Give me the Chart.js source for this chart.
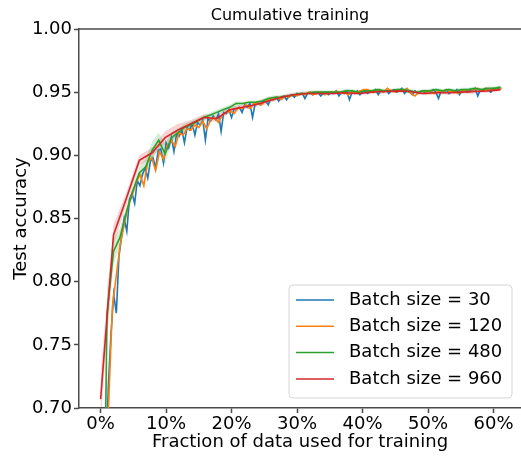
<!DOCTYPE html>
<html>
<head>
<meta charset="utf-8">
<script src="https://cdn.jsdelivr.net/npm/chart.js@4"></script>
<style>
  html, body { margin: 0; padding: 0; background: #ffffff; }
  #wrap { width: 521px; height: 457px; }
</style>
</head>
<body>
<div id="wrap"><canvas id="c" width="521" height="457"></canvas></div>
<script>
// Test accuracy vs. fraction of the training data seen, one run per batch size.
const batchLabels = ['Batch size = 30', 'Batch size = 120', 'Batch size = 480', 'Batch size = 960'];
const seriesColors = ['#1f77b4', '#ff7f0e', '#2ca02c', '#d62728'];

// Fraction of data consumed between evaluations for each run.
const fractionSteps = [0.004, 0.006, 0.00985, 0.0197];

const acc30 = [
  0.35, 0.55, 0.66, 0.72, 0.76, 0.79, 0.775, 0.82, 0.835, 0.85,
  0.84, 0.865, 0.87, 0.862, 0.88, 0.876, 0.885, 0.89, 0.882, 0.895,
  0.898, 0.89, 0.904, 0.905, 0.894, 0.91, 0.906, 0.914, 0.903, 0.917,
  0.915, 0.92, 0.91, 0.922, 0.92, 0.925, 0.916, 0.926, 0.924, 0.928,
  0.912, 0.929, 0.927, 0.931, 0.928, 0.933, 0.919, 0.934, 0.933, 0.936,
  0.93, 0.937, 0.937, 0.938, 0.934, 0.94, 0.938, 0.941, 0.93, 0.941,
  0.942, 0.94, 0.943, 0.943, 0.94, 0.945, 0.944, 0.946, 0.943, 0.946,
  0.947, 0.944, 0.947, 0.948, 0.946, 0.949, 0.948, 0.949, 0.945, 0.949,
  0.95, 0.948, 0.949, 0.95, 0.947, 0.949, 0.95, 0.948, 0.95, 0.949,
  0.951, 0.947, 0.95, 0.949, 0.951, 0.944, 0.95, 0.949, 0.951, 0.948,
  0.95, 0.951, 0.949, 0.951, 0.95, 0.952, 0.948, 0.951, 0.95, 0.952,
  0.949, 0.951, 0.952, 0.95, 0.951, 0.953, 0.949, 0.951, 0.95, 0.948,
  0.951, 0.949, 0.95, 0.951, 0.949, 0.951, 0.95, 0.952, 0.95, 0.945,
  0.951, 0.95, 0.952, 0.949, 0.951, 0.95, 0.952, 0.948, 0.951, 0.952,
  0.95, 0.952, 0.951, 0.953, 0.947, 0.952, 0.951, 0.953, 0.952, 0.95,
  0.953, 0.952, 0.953, 0.953
];

const acc120 = [
  0.40, 0.60, 0.70, 0.78, 0.805, 0.83, 0.845, 0.86, 0.868, 0.878,
  0.885, 0.876, 0.895, 0.898, 0.888, 0.903, 0.897, 0.908, 0.912, 0.907,
  0.918, 0.916, 0.921, 0.92, 0.924, 0.922, 0.927, 0.921, 0.928, 0.93,
  0.926, 0.932, 0.934, 0.935, 0.933, 0.938, 0.937, 0.94, 0.937, 0.941,
  0.942, 0.94, 0.943, 0.945, 0.944, 0.946, 0.944, 0.947, 0.946, 0.948,
  0.947, 0.949, 0.948, 0.95, 0.948, 0.949, 0.95, 0.948, 0.95, 0.949,
  0.951, 0.949, 0.95, 0.948, 0.95, 0.95, 0.951, 0.952, 0.952, 0.95,
  0.951, 0.952, 0.95, 0.953, 0.951, 0.95, 0.952, 0.951, 0.953, 0.949,
  0.947, 0.95, 0.951, 0.95, 0.951, 0.949, 0.951, 0.95, 0.952, 0.95,
  0.951, 0.949, 0.951, 0.952, 0.95, 0.952, 0.953, 0.951, 0.953, 0.952,
  0.953, 0.952, 0.953
];

const acc480 = [
  0.40, 0.775, 0.824, 0.835, 0.855, 0.872, 0.886, 0.891, 0.904, 0.912,
  0.901, 0.914, 0.918, 0.922, 0.924, 0.927, 0.93, 0.932, 0.934, 0.936,
  0.938, 0.941, 0.941, 0.942, 0.942, 0.943, 0.945, 0.946, 0.946, 0.947,
  0.948, 0.949, 0.949, 0.95, 0.95, 0.95, 0.95, 0.95, 0.951, 0.951,
  0.95, 0.951, 0.951, 0.952, 0.951, 0.951, 0.952, 0.952, 0.951, 0.95,
  0.951, 0.951, 0.952, 0.951, 0.952, 0.951, 0.952, 0.952, 0.953, 0.952,
  0.953, 0.953, 0.954
];
const spread480 = [
  0.0, 0.02, 0.01, 0.007, 0.005, 0.004, 0.005, 0.006, 0.007, 0.006,
  0.008, 0.004, 0.003, 0.003, 0.003, 0.002, 0.002, 0.002, 0.002, 0.002,
  0.002, 0.002, 0.0015, 0.0015, 0.0015, 0.0015, 0.0015, 0.0015, 0.0015, 0.0015,
  0.0015, 0.0015, 0.0015, 0.0015, 0.0015, 0.0015, 0.0015, 0.0015, 0.0015, 0.0015,
  0.0015, 0.0015, 0.0015, 0.0015, 0.0015, 0.0015, 0.0015, 0.0015, 0.0015, 0.0015,
  0.0015, 0.0015, 0.0015, 0.0015, 0.0015, 0.0015, 0.0015, 0.0015, 0.0015, 0.0015,
  0.0015, 0.0015, 0.0015
];

const acc960 = [
  0.707, 0.837, 0.866, 0.896, 0.902, 0.914, 0.92, 0.925, 0.93, 0.929,
  0.936, 0.938, 0.94, 0.943, 0.946, 0.948, 0.949, 0.949, 0.949, 0.9495,
  0.949, 0.95, 0.9505, 0.951, 0.9505, 0.949, 0.9495, 0.9495, 0.95, 0.9505,
  0.951, 0.952
];
const spread960 = [
  0.02, 0.008, 0.005, 0.004, 0.004, 0.005, 0.005, 0.003, 0.0025, 0.0025,
  0.0025, 0.002, 0.002, 0.002, 0.0015, 0.0015, 0.0015, 0.0015, 0.0015, 0.0015,
  0.0015, 0.0015, 0.0015, 0.0015, 0.0015, 0.0015, 0.0015, 0.0015, 0.0015, 0.0015,
  0.0015, 0.0015
];

const xTickValues = [0, 0.1, 0.2, 0.3, 0.4, 0.5, 0.6];
const yTickValues = [0.70, 0.75, 0.80, 0.85, 0.90, 0.95, 1.00];

const allAcc = [acc30, acc120, acc480, acc960];

function toPoints(step, values, offset) {
  return values.map((v, i) => ({ x: +(i * step).toFixed(5), y: v + (offset ? offset[i] : 0) }));
}

function hexToRgba(hex, a) {
  const n = parseInt(hex.slice(1), 16);
  return `rgba(${(n >> 16) & 255},${(n >> 8) & 255},${n & 255},${a})`;
}

const datasets = [];
allAcc.forEach((vals, k) => {
  datasets.push({
    label: batchLabels[k],
    data: toPoints(fractionSteps[k], vals),
    borderColor: seriesColors[k],
    backgroundColor: seriesColors[k],
    borderWidth: 1.6,
    pointRadius: 0,
    tension: 0,
    fill: false,
    order: 4 - k
  });
});

// shaded run-to-run spread for the two largest batch sizes
[[2, spread480], [3, spread960]].forEach(([k, sp]) => {
  const neg = sp.map(s => -s);
  datasets.push({
    label: '_band', data: toPoints(fractionSteps[k], allAcc[k], sp),
    borderWidth: 0, pointRadius: 0, fill: false, order: 10
  });
  datasets.push({
    label: '_band', data: toPoints(fractionSteps[k], allAcc[k], neg),
    borderWidth: 0, pointRadius: 0, fill: '-1',
    backgroundColor: hexToRgba(seriesColors[k], 0.2), order: 10
  });
});

const spineColor = '#4a4a4a';
const fontFamily = '"DejaVu Sans", sans-serif';

const decorations = {
  id: 'decorations',
  afterDraw(chart) {
    const { ctx, chartArea: a } = chart;
    ctx.save();
    // top frame line
    ctx.strokeStyle = spineColor;
    ctx.lineWidth = 1.5;
    ctx.beginPath();
    ctx.moveTo(a.left, a.top);
    ctx.lineTo(a.right, a.top);
    ctx.stroke();

    ctx.fillStyle = '#000000';
    ctx.textAlign = 'center';
    ctx.textBaseline = 'middle';
    ctx.font = `16px ${fontFamily}`;
    ctx.fillText('Cumulative training', 290, 16);

    ctx.font = `18px ${fontFamily}`;
    ctx.fillText('Fraction of data used for training', 300, 442);
    ctx.save();
    ctx.translate(21, (a.top + a.bottom) / 2);
    ctx.rotate(-Math.PI / 2);
    ctx.fillText('Test accuracy', 0, 0);
    ctx.restore();

    // legend box
    const bx = 289, by = 285, bw = 223, bh = 113, r = 4;
    ctx.beginPath();
    ctx.moveTo(bx + r, by);
    ctx.arcTo(bx + bw, by, bx + bw, by + bh, r);
    ctx.arcTo(bx + bw, by + bh, bx, by + bh, r);
    ctx.arcTo(bx, by + bh, bx, by, r);
    ctx.arcTo(bx, by, bx + bw, by, r);
    ctx.closePath();
    ctx.fillStyle = 'rgba(255,255,255,0.8)';
    ctx.fill();
    ctx.strokeStyle = '#d6d6d6';
    ctx.lineWidth = 1;
    ctx.stroke();

    ctx.textAlign = 'left';
    ctx.font = `18px ${fontFamily}`;
    batchLabels.forEach((lab, k) => {
      const yy = 300 + k * 26.3;
      ctx.strokeStyle = seriesColors[k];
      ctx.lineWidth = 1.5;
      ctx.beginPath();
      ctx.moveTo(296, yy);
      ctx.lineTo(334, yy);
      ctx.stroke();
      ctx.fillStyle = '#000000';
      ctx.fillText(lab, 349, yy);
    });
    ctx.restore();
  }
};

new Chart(document.getElementById('c'), {
  type: 'line',
  data: { datasets },
  options: {
    responsive: false,
    animation: false,
    devicePixelRatio: 1,
    parsing: true,
    layout: { padding: { top: 29, right: 0, left: 0, bottom: 0 } },
    plugins: {
      legend: { display: false },
      tooltip: { enabled: false },
      title: { display: false }
    },
    scales: {
      x: {
        type: 'linear',
        min: -0.033,
        max: 0.642,
        afterFit(scale) { scale.height = 49; },
        afterBuildTicks(scale) { scale.ticks = xTickValues.map(v => ({ value: v })); },
        grid: { drawOnChartArea: false, drawTicks: true, tickLength: 5, tickWidth: 1.5, tickColor: spineColor },
        border: { display: true, color: spineColor, width: 1.5 },
        ticks: {
          color: '#000000',
          font: { family: fontFamily, size: 18 },
          padding: 1,
          maxRotation: 0,
          callback: v => Math.round(v * 100) + '%'
        }
      },
      y: {
        type: 'linear',
        min: 0.70,
        max: 1.00,
        afterFit(scale) { scale.width = 79; },
        afterBuildTicks(scale) { scale.ticks = yTickValues.map(v => ({ value: v })); },
        grid: { drawOnChartArea: false, drawTicks: true, tickLength: 5, tickWidth: 1.5, tickColor: spineColor },
        border: { display: true, color: spineColor, width: 1.5 },
        ticks: {
          color: '#000000',
          font: { family: fontFamily, size: 18 },
          padding: 2,
          callback: v => v.toFixed(2)
        }
      }
    }
  },
  plugins: [decorations]
});
</script>
</body>
</html>
